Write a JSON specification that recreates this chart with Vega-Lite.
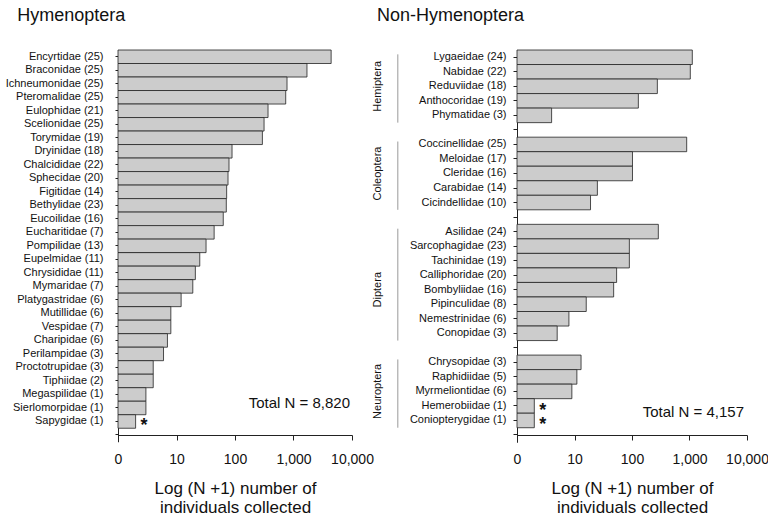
{
  "$schema": "https://vega.github.io/schema/vega-lite/v6.json",
  "background": "white",
  "padding": {"left": 5, "top": 6, "right": 0, "bottom": 0},
  "bounds": "flush",
  "spacing": 10,
  "config": {
    "view": {"stroke": null},
    "font": "Liberation Sans",
    "axis": {"domainColor": "#222", "tickColor": "#222", "labelColor": "#111", "titleColor": "#111", "grid": false, "labelFont": "Liberation Sans", "titleFont": "Liberation Sans"},
    "title": {"font": "Liberation Sans", "fontSize": 18, "fontWeight": "normal", "anchor": "start", "color": "#111"},
    "text": {"font": "Liberation Sans", "color": "#111"}
  },
  "datasets": {
    "hym": [
      {"family": "Encyrtidae (25)", "n_plus_1": 4400},
      {"family": "Braconidae (25)", "n_plus_1": 1700},
      {"family": "Ichneumonidae (25)", "n_plus_1": 775},
      {"family": "Pteromalidae (25)", "n_plus_1": 736},
      {"family": "Eulophidae (21)", "n_plus_1": 367},
      {"family": "Scelionidae (25)", "n_plus_1": 314},
      {"family": "Torymidae (19)", "n_plus_1": 294},
      {"family": "Dryinidae (18)", "n_plus_1": 89},
      {"family": "Chalcididae (22)", "n_plus_1": 79},
      {"family": "Sphecidae (20)", "n_plus_1": 76},
      {"family": "Figitidae (14)", "n_plus_1": 72},
      {"family": "Bethylidae (23)", "n_plus_1": 71},
      {"family": "Eucoilidae (16)", "n_plus_1": 63},
      {"family": "Eucharitidae (7)", "n_plus_1": 44},
      {"family": "Pompilidae (13)", "n_plus_1": 32},
      {"family": "Eupelmidae (11)", "n_plus_1": 25},
      {"family": "Chrysididae (11)", "n_plus_1": 21},
      {"family": "Mymaridae (7)", "n_plus_1": 19},
      {"family": "Platygastridae (6)", "n_plus_1": 12},
      {"family": "Mutillidae (6)", "n_plus_1": 8},
      {"family": "Vespidae (7)", "n_plus_1": 8},
      {"family": "Charipidae (6)", "n_plus_1": 7},
      {"family": "Perilampidae (3)", "n_plus_1": 6},
      {"family": "Proctotrupidae (3)", "n_plus_1": 4},
      {"family": "Tiphiidae (2)", "n_plus_1": 4},
      {"family": "Megaspilidae (1)", "n_plus_1": 3},
      {"family": "Sierlomorpidae (1)", "n_plus_1": 3},
      {"family": "Sapygidae (1)", "n_plus_1": 2, "star": "*"}
    ],
    "non": [
      {"family": "Lygaeidae (24)", "n_plus_1": 1119},
      {"family": "Nabidae (22)", "n_plus_1": 1033},
      {"family": "Reduviidae (18)", "n_plus_1": 276},
      {"family": "Anthocoridae (19)", "n_plus_1": 129},
      {"family": "Phymatidae (3)", "n_plus_1": 4},
      {"family": "Coccinellidae (25)", "n_plus_1": 894},
      {"family": "Meloidae (17)", "n_plus_1": 102},
      {"family": "Cleridae (16)", "n_plus_1": 102},
      {"family": "Carabidae (14)", "n_plus_1": 25},
      {"family": "Cicindellidae (10)", "n_plus_1": 19},
      {"family": "Asilidae (24)", "n_plus_1": 287},
      {"family": "Sarcophagidae (23)", "n_plus_1": 90},
      {"family": "Tachinidae (19)", "n_plus_1": 90},
      {"family": "Calliphoridae (20)", "n_plus_1": 54},
      {"family": "Bombyliidae (16)", "n_plus_1": 48},
      {"family": "Pipinculidae (8)", "n_plus_1": 16},
      {"family": "Nemestrinidae (6)", "n_plus_1": 8},
      {"family": "Conopidae (3)", "n_plus_1": 5},
      {"family": "Chrysopidae (3)", "n_plus_1": 13},
      {"family": "Raphidiidae (5)", "n_plus_1": 11},
      {"family": "Myrmeliontidae (6)", "n_plus_1": 9},
      {"family": "Hemerobiidae (1)", "n_plus_1": 2, "star": "*"},
      {"family": "Coniopterygidae (1)", "n_plus_1": 2, "star": "*"}
    ],
    "groups": [
      {"group": "Hemiptera", "first": "Lygaeidae (24)", "last": "Phymatidae (3)", "mid": "Reduviidae (18)"},
      {"group": "Coleoptera", "first": "Coccinellidae (25)", "last": "Cicindellidae (10)", "mid": "Cleridae (16)"},
      {"group": "Diptera", "first": "Asilidae (24)", "last": "Conopidae (3)", "mid": "Bombyliidae (16)"},
      {"group": "Neuroptera", "first": "Chrysopidae (3)", "last": "Coniopterygidae (1)", "mid": "Myrmeliontidae (6)"}
    ]
  },
  "hconcat": [
    {
      "title": {"text": "Hymenoptera", "dx": 12, "offset": 25},
      "width": 234,
      "height": 385,
      "data": {"name": "hym"},
      "layer": [
        {
          "mark": {"type": "bar", "fill": "#cccccc", "stroke": "#222", "strokeWidth": 0.8},
          "encoding": {
            "y": {
              "field": "family", "type": "nominal", "sort": null,
              "scale": {
                "domain": ["Encyrtidae (25)", "Braconidae (25)", "Ichneumonidae (25)", "Pteromalidae (25)", "Eulophidae (21)", "Scelionidae (25)", "Torymidae (19)", "Dryinidae (18)", "Chalcididae (22)", "Sphecidae (20)", "Figitidae (14)", "Bethylidae (23)", "Eucoilidae (16)", "Eucharitidae (7)", "Pompilidae (13)", "Eupelmidae (11)", "Chrysididae (11)", "Mymaridae (7)", "Platygastridae (6)", "Mutillidae (6)", "Vespidae (7)", "Charipidae (6)", "Perilampidae (3)", "Proctotrupidae (3)", "Tiphiidae (2)", "Megaspilidae (1)", "Sierlomorpidae (1)", "Sapygidae (1)", "gap_end"],
                "range": [0, 391.75], "paddingInner": 0, "paddingOuter": 0
              },
              "axis": {"title": null, "labelExpr": "indexof(datum.label, 'gap') === 0 ? '' : datum.label", "tickSize": 3, "labelPadding": 12, "labelFontSize": 11, "labelOverlap": false}
            },
            "x": {
              "field": "n_plus_1", "type": "quantitative",
              "scale": {"type": "log", "domain": [1, 10000], "nice": false},
              "axis": {"values": [1, 10, 100, 1000, 10000], "labelExpr": "datum.value == 1 ? '0' : format(datum.value, ',')", "labelFontSize": 14, "tickSize": 5, "labelPadding": 12, "labelFlush": false, "labelOverlap": false, "title": ["Log (N +1) number of", "individuals collected"], "titleFontSize": 17, "titleFontWeight": "normal", "titlePadding": 14, "titleLineHeight": 19}
            },
            "x2": {"datum": 1}
          }
        },
        {
          "transform": [{"filter": "isValid(datum.star)"}],
          "mark": {"type": "text", "fontSize": 18, "fontWeight": "bold", "align": "left", "baseline": "middle", "dx": 5, "dy": 5},
          "encoding": {
            "y": {"field": "family", "type": "nominal"},
            "x": {"field": "n_plus_1", "type": "quantitative"},
            "text": {"field": "star"}
          }
        },
        {
          "data": {"values": [{"label": "Total N = 8,820"}]},
          "mark": {"type": "text", "fontSize": 15, "align": "right", "baseline": "middle", "dx": -2, "dy": -5},
          "encoding": {
            "y": {"datum": "Sierlomorpidae (1)", "type": "nominal"},
            "x": {"datum": 10000, "type": "quantitative"},
            "text": {"field": "label"}
          }
        }
      ]
    },
    {
      "title": {"text": "Non-Hymenoptera", "dx": 15, "offset": 25},
      "width": 145,
      "height": 385,
      "data": {"name": "groups"},
      "layer": [
        {
          "mark": {"type": "rule", "stroke": "#999", "strokeWidth": 1},
          "encoding": {
            "x": {"datum": 0.247, "type": "quantitative", "scale": {"domain": [0, 1]}, "axis": null},
            "y": {
              "field": "first", "type": "nominal", "bandPosition": 0.3,
              "scale": {
                "domain": ["Lygaeidae (24)", "Nabidae (22)", "Reduviidae (18)", "Anthocoridae (19)", "Phymatidae (3)", "gap_1", "Coccinellidae (25)", "Meloidae (17)", "Cleridae (16)", "Carabidae (14)", "Cicindellidae (10)", "gap_2", "Asilidae (24)", "Sarcophagidae (23)", "Tachinidae (19)", "Calliphoridae (20)", "Bombyliidae (16)", "Pipinculidae (8)", "Nemestrinidae (6)", "Conopidae (3)", "gap_3", "Chrysopidae (3)", "Raphidiidae (5)", "Myrmeliontidae (6)", "Hemerobiidae (1)", "Coniopterygidae (1)", "gap_end"],
                "range": [0, 392.26], "paddingInner": 0, "paddingOuter": 0
              },
              "axis": null
            },
            "y2": {"field": "last", "bandPosition": 1}
          }
        },
        {
          "mark": {"type": "text", "angle": 270, "fontSize": 11, "baseline": "middle", "align": "center"},
          "encoding": {
            "x": {"datum": 0.11, "type": "quantitative"},
            "y": {"field": "mid", "type": "nominal"},
            "text": {"field": "group"}
          }
        }
      ]
    },
    {
      "width": 230,
      "height": 385,
      "data": {"name": "non"},
      "layer": [
        {
          "mark": {"type": "bar", "fill": "#cccccc", "stroke": "#222", "strokeWidth": 0.8},
          "encoding": {
            "y": {
              "field": "family", "type": "nominal", "sort": null,
              "scale": {
                "domain": ["Lygaeidae (24)", "Nabidae (22)", "Reduviidae (18)", "Anthocoridae (19)", "Phymatidae (3)", "gap_1", "Coccinellidae (25)", "Meloidae (17)", "Cleridae (16)", "Carabidae (14)", "Cicindellidae (10)", "gap_2", "Asilidae (24)", "Sarcophagidae (23)", "Tachinidae (19)", "Calliphoridae (20)", "Bombyliidae (16)", "Pipinculidae (8)", "Nemestrinidae (6)", "Conopidae (3)", "gap_3", "Chrysopidae (3)", "Raphidiidae (5)", "Myrmeliontidae (6)", "Hemerobiidae (1)", "Coniopterygidae (1)", "gap_end"],
                "range": [0, 392.26], "paddingInner": 0, "paddingOuter": 0
              },
              "axis": {"title": null, "labelExpr": "indexof(datum.label, 'gap') === 0 ? '' : datum.label", "tickSize": 4, "labelPadding": 7, "labelFontSize": 11, "labelOverlap": false}
            },
            "x": {
              "field": "n_plus_1", "type": "quantitative",
              "scale": {"type": "log", "domain": [1, 10000], "nice": false},
              "axis": {"values": [1, 10, 100, 1000, 10000], "labelExpr": "datum.value == 1 ? '0' : format(datum.value, ',')", "labelFontSize": 14, "tickSize": 5, "labelPadding": 12, "labelFlush": false, "labelOverlap": false, "title": ["Log (N +1) number of", "individuals collected"], "titleFontSize": 17, "titleFontWeight": "normal", "titlePadding": 14, "titleLineHeight": 19}
            },
            "x2": {"datum": 1}
          }
        },
        {
          "transform": [{"filter": "isValid(datum.star)"}],
          "mark": {"type": "text", "fontSize": 18, "fontWeight": "bold", "align": "left", "baseline": "middle", "dx": 5, "dy": 5},
          "encoding": {
            "y": {"field": "family", "type": "nominal"},
            "x": {"field": "n_plus_1", "type": "quantitative"},
            "text": {"field": "star"}
          }
        },
        {
          "data": {"values": [{"label": "Total N = 4,157"}]},
          "mark": {"type": "text", "fontSize": 15, "align": "right", "baseline": "middle", "dx": -3, "dy": 6},
          "encoding": {
            "y": {"datum": "Hemerobiidae (1)", "type": "nominal"},
            "x": {"datum": 10000, "type": "quantitative"},
            "text": {"field": "label"}
          }
        }
      ]
    }
  ]
}
